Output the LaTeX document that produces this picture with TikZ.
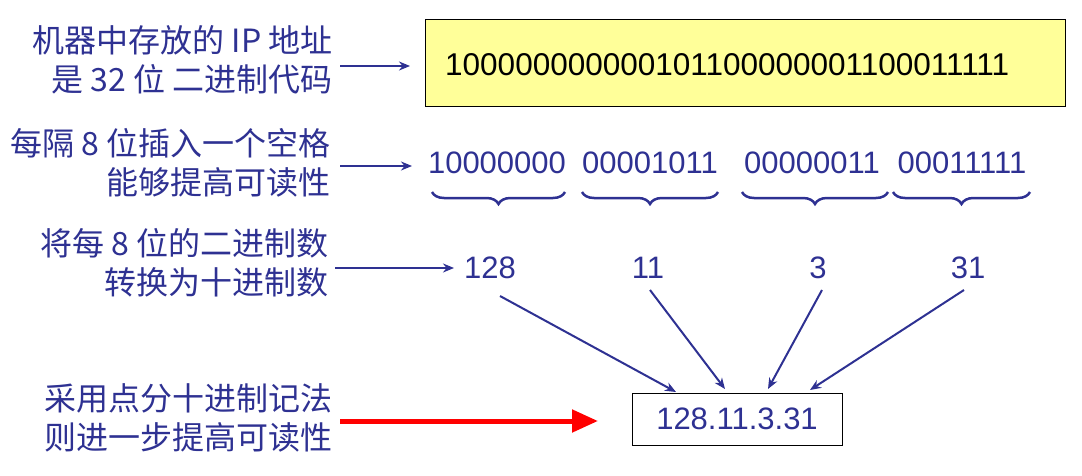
\documentclass[tikz,border=0pt]{standalone}
\usepackage{fontspec}
\setmainfont{Noto Sans CJK SC}
\newfontfamily\arialf{Liberation Sans}
\usetikzlibrary{decorations.pathreplacing,arrows.meta}
\definecolor{navy}{HTML}{2E3192}
\definecolor{lyel}{HTML}{FFFF99}
\tikzset{
  lab/.style={text=navy,font=\fontsize{32}{39}\selectfont,align=right,anchor=east,inner sep=0},
  num/.style={text=navy,font=\arialf\fontsize{31}{34}\selectfont,inner sep=0},
  arr/.style={draw=navy,line width=2pt,-{Stealth[length=11pt,width=9pt]}},
  brace/.style={draw=navy,line width=2.5pt,decorate,decoration={brace,mirror,amplitude=12pt}},
}
\begin{document}
\begin{tikzpicture}[x=1pt,y=-1pt]
\useasboundingbox (0,0) rectangle (1082,476);
\node[lab] (t1) at (333,60) {机器中存放的 IP 地址\\是 32 位 二进制代码};
\node[lab] (t2) at (331,163) {每隔 8 位插入一个空格\\能够提高可读性};
\node[lab] (t3) at (329,263) {将每 8 位的二进制数\\转换为十进制数};
\node[lab] (t4) at (333,418) {采用点分十进制记法\\则进一步提高可读性};

\node[draw=black,fill=lyel,line width=1pt,minimum width=640,minimum height=87,inner sep=0] (box) at (745,63.5) {};
\node[text=black,font=\arialf\fontsize{31.5}{32}\selectfont,inner sep=0,anchor=west] (bin) at (445,65) {100000000000101100000001100011111};

\node[num] (b1) at (497,163) {10000000};
\node[num] (b2) at (650,163) {00001011};
\node[num] (b3) at (812,163) {00000011};
\node[num] (b4) at (962,163) {00011111};

\draw[brace] (432,192) -- (565,192);
\draw[brace] (582,192) -- (718,192);
\draw[brace] (742,192) -- (888,192);
\draw[brace] (893,192) -- (1030,192);

\node[num] (n1) at (490,268) {128};
\node[num] (n2) at (648,268) {11};
\node[num] (n3) at (818,268) {3};
\node[num] (n4) at (968,268) {31};

\node[draw=black,line width=1pt,minimum width=210,minimum height=52,inner sep=0,font=\arialf\fontsize{31}{33}\selectfont,text=navy] (dot) at (737,419) {128.11.3.31};

\coordinate (a1s) at (340,66); \coordinate (a1e) at (410,66);
\draw[arr] (a1s) -- (a1e);
\coordinate (a2s) at (340,166); \coordinate (a2e) at (412,166);
\draw[arr] (a2s) -- (a2e);
\coordinate (a3s) at (335,268); \coordinate (a3e) at (454,268);
\draw[arr] (a3s) -- (a3e);

\draw[arr] (500,296) -- (676,392);
\draw[arr] (650,290) -- (725,389);
\draw[arr] (822,290) -- (768,389);
\draw[arr] (964,290) -- (810,390);

\coordinate (rs) at (340,421); \coordinate (re) at (598,421);
\draw[draw=red,line width=5pt,-{Triangle[length=26pt,width=22pt]}] (rs) -- (re);
\end{tikzpicture}
\end{document}
